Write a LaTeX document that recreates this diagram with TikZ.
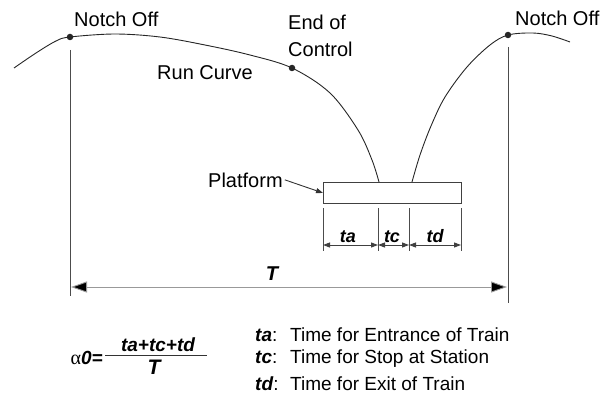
\documentclass[tikz,border=0pt]{standalone}
\usepackage{fontspec}
\setmainfont{Liberation Sans}
\newfontfamily\greekserif{Liberation Serif}
\usetikzlibrary{arrows.meta}

\tikzset{
  lbl/.style={inner sep=0pt, font=\fontsize{20}{24}\selectfont},
  leg/.style={inner sep=0pt, font=\fontsize{19}{23}\selectfont},
  var/.style={inner sep=0pt, font=\fontsize{19}{23}\selectfont\bfseries\itshape},
  dimvar/.style={inner sep=0pt, font=\fontsize{18}{22}\selectfont\bfseries\itshape},
  dot/.style={circle, fill=black!85, inner sep=0pt, minimum size=6.5pt},
  curve/.style={line width=0.9pt, draw=black!85},
  guide/.style={line width=0.9pt, draw=black!70},
  smalldim/.style={line width=0.9pt, draw=black!75,
    {Triangle[length=7pt,width=5pt]}-{Triangle[length=7pt,width=5pt]}},
  bigdim/.style={line width=0.9pt, draw=black!40,
    {Triangle[length=16pt,width=11pt,fill=black]}-{Triangle[length=16pt,width=11pt,fill=black]}},
  pointer/.style={line width=0.9pt, draw=black!80, -{Triangle[length=7pt,width=5pt]}}
}

\begin{document}
\begin{tikzpicture}[x=1pt, y=-1pt]
\useasboundingbox (0,0) rectangle (606,396);

% run curve: approach, bottom at the platform, departure
\draw[curve] plot[smooth, tension=0.55] coordinates
  {(14,68) (36,53) (56,41) (70,37) (115,34) (160,37) (205,45) (250,55) (292,68) (330,93) (358,130) (372,160) (379,182)};
\draw[curve] (379,182) -- (412,182);
\draw[curve] plot[smooth, tension=0.55] coordinates
  {(412,182) (420,155) (431,126) (445,97) (467,67) (490,45) (508,35) (533,33) (552,36) (570,42)};

% marked points on the curve
\node[dot] (off1) at (70,37) {};
\node[dot] (eoc) at (292,68) {};
\node[dot] (off2) at (508,35) {};

% labels on the curve
\node[lbl, anchor=base west] (lab1) at (74,27) {Notch Off};
\node[lbl, anchor=base west] (lab2) at (515,26) {Notch Off};
\node[lbl, anchor=base west] (eoc1) at (288,30) {End of};
\node[lbl, anchor=base west] (eoc2) at (288,57) {Control};
\node[lbl, anchor=base west] (run) at (157,80) {Run Curve};

% platform
\node[draw=black!75, line width=0.9pt, minimum width=138pt, minimum height=21pt,
      inner sep=0pt, anchor=north west] (plat) at (323,182) {};
\node[lbl, anchor=base west] (platlab) at (208,187) {Platform};
\draw[pointer] (platlab.east) ++(2pt,0) coordinate (ps) (ps) -- (plat.west);

% dimension lines under the platform
\foreach \n/\x in {d0/323, d1/378, d2/409, d3/461} {
  \coordinate (\n t) at (\x,208);
  \coordinate (\n b) at (\x,251);
  \coordinate (\n m) at (\x,245);
  \draw[guide] (\n t) -- (\n b);
}
\draw[smalldim] (d0m) -- (d1m);
\draw[smalldim] (d1m) -- (d2m);
\draw[smalldim] (d2m) -- (d3m);
\node[dimvar, anchor=base] (lta) at (348,242) {ta};
\node[dimvar, anchor=base] (ltc) at (392,242) {tc};
\node[dimvar, anchor=base] (ltd) at (435,242) {td};

% overall interval T
\coordinate (v1t) at (70,50);
\coordinate (v1b) at (70,296);
\coordinate (v2t) at (508,47);
\coordinate (v2b) at (508,303);
\draw[guide] (v1t) -- (v1b);
\draw[guide] (v2t) -- (v2b);
\coordinate (t1) at (71,287);
\coordinate (t2) at (507,287);
\draw[bigdim] (t1) -- (t2);
\node[lbl, font=\fontsize{20}{24}\selectfont\bfseries\itshape, anchor=base] (Tlab) at (272,280) {T};

% ratio formula
\node[inner sep=0pt, anchor=base east] (alpha) at (103,364)
  {{\fontsize{20}{24}\selectfont\greekserif α}{\fontsize{19}{23}\selectfont\bfseries\itshape 0=}};
\coordinate (bar1) at (105,355);
\coordinate (bar2) at (207,355);
\draw[line width=0.9pt, draw=black!80] (bar1) -- (bar2);
\node[var, anchor=base] (num) at (158,351) {ta+tc+td};
\node[var, font=\fontsize{21}{24}\selectfont\bfseries\itshape, anchor=base] (den) at (154,374) {T};

% legend
\node[var, anchor=base west] (k1) at (255,341) {ta\textmd{\textup{:}}};
\node[var, anchor=base west] (k2) at (255,363) {tc\textmd{\textup{:}}};
\node[var, anchor=base west] (k3) at (255,390) {td\textmd{\textup{:}}};
\node[leg, anchor=base west] (e1) at (290,341) {Time for Entrance of Train};
\node[leg, anchor=base west] (e2) at (290,363) {Time for Stop at Station};
\node[leg, anchor=base west] (e3) at (290,390) {Time for Exit of Train};
\end{tikzpicture}
\end{document}
